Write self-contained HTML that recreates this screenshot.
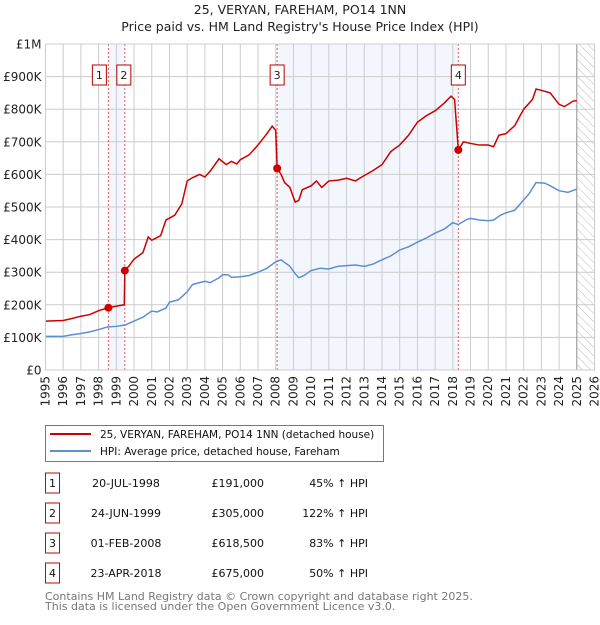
<!DOCTYPE html>
<html><head><meta charset="utf-8"><style>
body{margin:0;background:#fff;font-family:"Liberation Sans","DejaVu Sans",sans-serif;}
svg text{font-family:"DejaVu Sans","Liberation Sans",sans-serif;}
</style></head><body>
<svg id="c" width="600" height="620" xmlns="http://www.w3.org/2000/svg">
<defs><pattern id="hatch" width="6" height="6" patternUnits="userSpaceOnUse" patternTransform="rotate(-45)"><line x1="0" y1="0" x2="0" y2="6" stroke="#bbb" stroke-width="1"/></pattern></defs>
<text x="300" y="14" text-anchor="middle" font-size="12.5" fill="#222">25, VERYAN, FAREHAM, PO14 1NN</text>
<text x="300" y="31" text-anchor="middle" font-size="12.5" fill="#222">Price paid vs. HM Land Registry's House Price Index (HPI)</text>
<g id="plot"></g>
<g>
<rect x="45.5" y="425.5" width="338" height="36" fill="#fff" stroke="#777"/>
<line x1="50" y1="434" x2="91" y2="434" stroke="#cc0000" stroke-width="2"/>
<text x="100" y="438" font-size="10.5" fill="#111">25, VERYAN, FAREHAM, PO14 1NN (detached house)</text>
<line x1="50" y1="451" x2="91" y2="451" stroke="#5b8fd4" stroke-width="2"/>
<text x="100" y="455" font-size="10.5" fill="#111">HPI: Average price, detached house, Fareham</text>
</g>
<g id="table" font-size="11" fill="#111"></g>
<text x="45" y="600" font-size="11" fill="#777">Contains HM Land Registry data © Crown copyright and database right 2025.</text>
<text x="45" y="610" font-size="11" fill="#777">This data is licensed under the Open Government Licence v3.0.</text>
</svg>
<script>
const yTicks=[0,100,200,300,400,500,600,700,800,900,1000];
const yTickLabels=["£0","£100K","£200K","£300K","£400K","£500K","£600K","£700K","£800K","£900K","£1M"];
const xYears=[1995,1996,1997,1998,1999,2000,2001,2002,2003,2004,2005,2006,2007,2008,2009,2010,2011,2012,2013,2014,2015,2016,2017,2018,2019,2020,2021,2022,2023,2024,2025,2026];
const hpiT=[1995,1996,1996.5,1997,1997.5,1998,1998.5,1999,1999.5,2000,2000.5,2001,2001.3,2001.8,2002,2002.5,2003,2003.3,2003.7,2004,2004.3,2004.8,2005,2005.3,2005.5,2006,2006.5,2007,2007.5,2008,2008.3,2008.8,2009.1,2009.3,2009.6,2010,2010.5,2011,2011.5,2012,2012.5,2013,2013.5,2014,2014.5,2015,2015.5,2016,2016.5,2017,2017.5,2018,2018.3,2018.8,2019,2019.5,2020,2020.3,2020.7,2021,2021.5,2022,2022.3,2022.7,2023.2,2023.5,2024,2024.5,2025];
const hpiV=[103,103,108,112,117,124,132,134,138,150,162,181,178,190,208,215,240,262,268,272,268,283,292,292,284,286,290,300,312,332,338,318,295,283,290,305,312,310,318,320,322,318,325,338,350,368,378,392,405,420,432,452,446,462,465,460,458,460,475,482,490,522,540,575,573,565,550,545,555];
const priceT=[1995,1996,1996.5,1997,1997.5,1998,1998.55,1999,1999.45,1999.48,1999.7,2000,2000.5,2000.8,2001,2001.5,2001.8,2002.3,2002.7,2003,2003.3,2003.7,2004,2004.3,2004.8,2005.2,2005.5,2005.8,2006,2006.5,2007,2007.5,2007.8,2008,2008.08,2008.3,2008.5,2008.8,2009.1,2009.3,2009.5,2010,2010.3,2010.6,2011,2011.5,2012,2012.5,2012.8,2013.5,2014,2014.5,2015,2015.5,2016,2016.5,2017,2017.5,2017.9,2018.1,2018.31,2018.6,2019,2019.5,2020,2020.3,2020.6,2021,2021.5,2022,2022.5,2022.7,2023,2023.5,2024,2024.3,2024.8,2025];
const priceV=[150,152,158,165,170,182,191,196,200,305,318,340,360,408,398,412,460,475,510,580,590,600,592,610,648,630,640,632,645,660,690,725,748,735,618.5,600,575,560,515,520,553,565,580,560,580,582,588,580,590,612,630,670,690,720,760,780,795,818,840,830,675,700,695,690,690,685,720,725,750,800,830,862,858,850,815,808,825,826];
const saleT=[1998.55,1999.48,2008.08,2018.31];
const saleV=[191,305,618.5,675];
const saleLabels=["1","2","3","4"];
const saleDates=["20-JUL-1998","24-JUN-1999","01-FEB-2008","23-APR-2018"];
const salePrices=["£191,000","£305,000","£618,500","£675,000"];
const salePct=["45% ↑ HPI","122% ↑ HPI","83% ↑ HPI","50% ↑ HPI"];
const L=45.5,R=594.5,T=44,B=370;
const X=t=>L+(t-1995)/31*(R-L);
const Y=v=>B-v/1000*(B-T);
const NS="http://www.w3.org/2000/svg";
const plot=document.getElementById('plot');
function mk(tag,at,parent){const e=document.createElementNS(NS,tag);for(const k in at)e.setAttribute(k,at[k]);(parent||plot).appendChild(e);return e;}
let e;
e=mk('rect',{x:X(saleT[0]),y:T,width:X(saleT[1])-X(saleT[0]),height:B-T,fill:'#eef2fc',opacity:0.7});


e=mk('rect',{x:X(saleT[2]),y:T,width:X(saleT[3])-X(saleT[2]),height:B-T,fill:'#eef2fc',opacity:0.7});


e=mk('rect',{x:X(2025),y:T,width:R-X(2025),height:B-T,fill:'url(#hatch)'});


yTicks.forEach((v,i)=>{
 e=mk('line',{x1:L,x2:R,y1:Y(v),y2:Y(v),stroke:'#ccc','stroke-width':1});
 
 
 e=mk('text',{x:L-4,y:Y(v)+4.5,'text-anchor':'end','font-size':12,fill:'#222'});
 e.textContent=yTickLabels[i];
 
 
});
xYears.forEach(yr=>{
 e=mk('line',{x1:X(yr),x2:X(yr),y1:T,y2:B,stroke:'#ccc','stroke-width':1});
 
 
 e=mk('text',{x:0,y:0,'text-anchor':'end','font-size':12,fill:'#222',transform:`translate(${X(yr)+4},${B+6}) rotate(-90)`});
 e.textContent=yr;
 
 
});
e=mk('line',{x1:X(2025),x2:X(2025),y1:T,y2:B,stroke:'#999','stroke-width':1});


saleT.forEach((t,i)=>{
 e=mk('line',{x1:X(t),x2:X(t),y1:T,y2:B,stroke:'#e06060','stroke-width':1,'stroke-dasharray':'2,2'});
 
 
});
e=mk('polyline',{points:hpiT.map((t,i)=>X(t)+','+Y(hpiV[i])).join(' '),fill:'none',stroke:'#5b8fd4','stroke-width':1.5});


e=mk('polyline',{points:priceT.map((t,i)=>X(t)+','+Y(priceV[i])).join(' '),fill:'none',stroke:'#cc0000','stroke-width':1.5});


saleT.forEach((t,i)=>{
 e=mk('circle',{cx:X(t),cy:Y(saleV[i]),r:4,fill:'#cc0000'});
 
 
 const bx=i==0?X(t)-16:i==1?X(t)-8:X(t)-7;
 e=mk('rect',{x:bx,y:65,width:14,height:20,fill:'#fff',stroke:'#b00'});
 
 
 e=mk('text',{x:bx+7,y:79,'text-anchor':'middle','font-size':11,fill:'#222'});
 e.textContent=saleLabels[i];
 
 
});
e=mk('rect',{x:L,y:T,width:R-L,height:B-T,fill:'none',stroke:'#ccc'});
const tb=document.getElementById('table');
saleLabels.forEach((s,i)=>{
 const cy=483+i*30;
 e=mk('rect',{x:45.5,y:cy-10,width:14,height:20,fill:'#fff',stroke:'#cc0000'},tb);
 
 
 e=mk('text',{x:52.5,y:cy+4,'text-anchor':'middle'},tb);e.textContent=s;
 
 
 e=mk('text',{x:126,y:cy+4,'text-anchor':'middle'},tb);e.textContent=saleDates[i];
 
 
 e=mk('text',{x:264,y:cy+4,'text-anchor':'end'},tb);e.textContent=salePrices[i];
 
 
 e=mk('text',{x:368,y:cy+4,'text-anchor':'end'},tb);e.textContent=salePct[i];
 
 
});
</script>
</body></html>
